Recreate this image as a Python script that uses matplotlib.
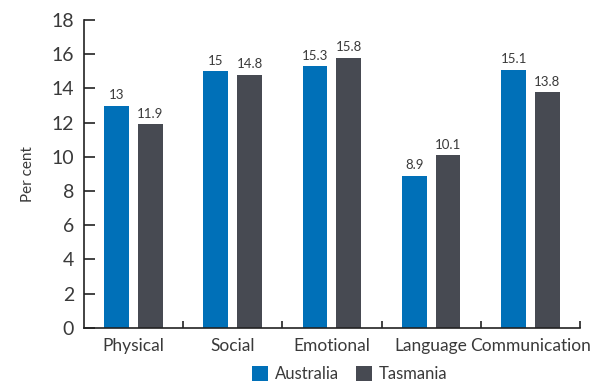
import numpy as np
import matplotlib.pyplot as plt

categories = ["Physical", "Social", "Emotional", "Language", "Communication"]
australia = [13, 15, 15.3, 8.9, 15.1]
tasmania = [11.9, 14.8, 15.8, 10.1, 13.8]
labels_aus = ["13", "15", "15.3", "8.9", "15.1"]
labels_tas = ["11.9", "14.8", "15.8", "10.1", "13.8"]

blue = "#0070b8"
grey = "#474a52"
txt = "#3a3a3a"

plt.rcParams['font.family'] = ['Lato', 'DejaVu Sans']

fig = plt.figure(figsize=(6.03, 3.84), dpi=100)
ax = fig.add_axes([0.139, 0.146, 0.823, 0.802])

x = np.arange(len(categories))
w = 0.25
b1 = ax.bar(x - 0.17, australia, w, color=blue, label="Australia")
b2 = ax.bar(x + 0.17, tasmania, w, color=grey, label="Tasmania")

for bars, labs in ((b1, labels_aus), (b2, labels_tas)):
    for r, s in zip(bars, labs):
        ax.text(r.get_x() + r.get_width() / 2, r.get_height() + 0.25, s,
                ha="center", va="bottom", fontsize=9.5, color=txt)

ax.set_xlim(-0.5, len(categories) - 0.5)
ax.set_ylim(0, 18)
ax.set_yticks(np.arange(0, 19, 2))
ax.set_xticks(x)
ax.set_xticklabels(categories, fontsize=12.5, color=txt)
ax.tick_params(axis="x", length=0, pad=7)
ax.tick_params(axis="y", direction="in", length=8, width=1.2, color="#222",
               labelsize=14, labelcolor=txt, pad=7)
# boundary ticks on x axis
ax.set_xticks(np.arange(0.5, len(categories), 1), minor=True)
ax.tick_params(axis="x", which="minor", direction="in", length=5, width=1.2, color="#222")

for s in ("top", "right"):
    ax.spines[s].set_visible(False)
for s in ("left", "bottom"):
    ax.spines[s].set_color("#222")
    ax.spines[s].set_linewidth(1.2)

ax.set_ylabel("Per cent", fontsize=11, color=txt, labelpad=12)

fig.legend(handles=[b1, b2], loc="lower center", bbox_to_anchor=(0.58, -0.035),
           ncol=2, frameon=False, fontsize=12, handlelength=1.0, handleheight=1.0,
           handletextpad=0.4, columnspacing=1.0, labelcolor=txt)

fig.savefig("out.png", dpi=100)
